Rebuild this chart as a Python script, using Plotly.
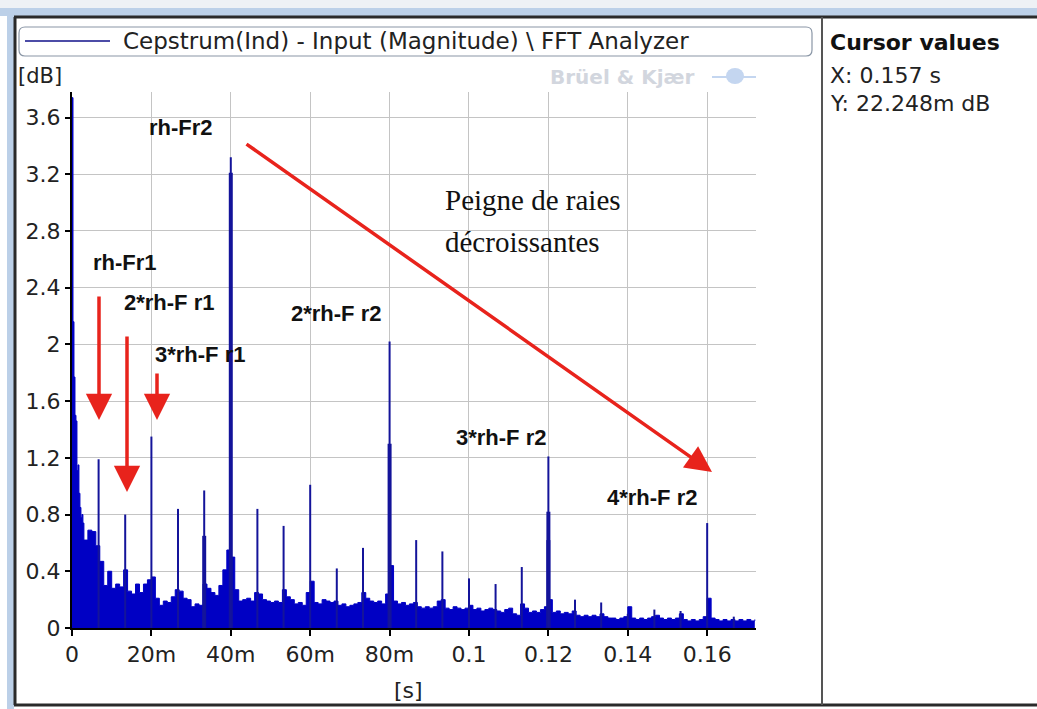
import numpy as np
import plotly.graph_objects as go

# ---------------- data ----------------
# early decay near quefrency 0, every 0.25 ms
head_ms = [0, 0.25, 0.5, 0.75, 1.0, 1.25, 1.5, 1.75, 2.0, 2.25, 2.5, 2.75]
head_db = [3.74, 2.16, 1.77, 1.50, 1.46, 1.11, 1.15, 0.95, 0.85, 0.78, 0.80, 0.74]

# noise floor (upper envelope), every 1 ms from 3 ms to 172 ms
floor_start_ms = 3
floor_db = [
    0.62, 0.69, 0.68, 0.58, 0.47, 0.30, 0.40, 0.28, 0.31, 0.29,   # 3-12
    0.41, 0.26, 0.24, 0.31, 0.25, 0.31, 0.34, 0.36, 0.21, 0.16,   # 13-22
    0.19, 0.18, 0.22, 0.27, 0.26, 0.21, 0.20, 0.15, 0.17, 0.16,   # 23-32
    0.31, 0.28, 0.25, 0.23, 0.30, 0.41, 0.55, 0.50, 0.27, 0.19,   # 33-42
    0.20, 0.21, 0.19, 0.25, 0.24, 0.20, 0.19, 0.18, 0.19, 0.18,   # 43-52
    0.27, 0.22, 0.20, 0.17, 0.18, 0.16, 0.25, 0.33, 0.18, 0.17,   # 53-62
    0.20, 0.19, 0.18, 0.19, 0.16, 0.17, 0.15, 0.16, 0.17, 0.18,   # 63-72
    0.25, 0.21, 0.19, 0.18, 0.19, 0.17, 0.24, 0.44, 0.19, 0.17,   # 73-82
    0.18, 0.16, 0.17, 0.18, 0.15, 0.14, 0.15, 0.14, 0.15, 0.19,   # 83-92
    0.20, 0.14, 0.13, 0.15, 0.14, 0.13, 0.14, 0.16, 0.13, 0.14,   # 93-102
    0.12, 0.13, 0.14, 0.13, 0.12, 0.11, 0.13, 0.14, 0.10, 0.09,   # 103-112
    0.17, 0.14, 0.11, 0.12, 0.11, 0.13, 0.15, 0.20, 0.11, 0.12,   # 113-122
    0.10, 0.11, 0.10, 0.12, 0.09, 0.08, 0.09, 0.08, 0.09, 0.08,   # 123-132
    0.10, 0.08, 0.07, 0.07, 0.06, 0.07, 0.08, 0.15, 0.07, 0.06,   # 133-142
    0.07, 0.06, 0.07, 0.08, 0.09, 0.07, 0.06, 0.07, 0.06, 0.07,   # 143-152
    0.10, 0.06, 0.05, 0.06, 0.05, 0.06, 0.08, 0.21, 0.07, 0.06,   # 153-162
    0.05, 0.06, 0.05, 0.06, 0.05, 0.06, 0.05, 0.06, 0.05, 0.06,   # 163-172
]

# rahmonic peaks (ms, dB)
peak_ms = [6.7, 13.4, 20.0, 26.7, 33.3, 40.0, 46.7, 53.3, 60.0, 66.7, 73.3, 80.0,
           86.7, 93.3, 100.0, 106.7, 113.3, 120.0, 126.7, 133.3, 140.0, 146.7, 153.3,
           160.0, 166.7]
peak_db = [1.19, 0.80, 1.35, 0.84, 0.97, 3.32, 0.84, 0.72, 1.01, 0.42, 0.565, 2.02,
           0.62, 0.54, 0.35, 0.31, 0.43, 1.21, 0.20, 0.18, 0.10, 0.13, 0.12,
           0.74, 0.08]
# wider lower parts of some peaks
shoulder_ms = [33.3, 40.0, 80.0, 120.0, 120.0]
shoulder_db = [0.65, 3.21, 1.30, 0.82, 0.62]

x_tick_vals = [0, 0.02, 0.04, 0.06, 0.08, 0.10, 0.12, 0.14, 0.16]
x_tick_text = ["0", "20m", "40m", "60m", "80m", "0.1", "0.12", "0.14", "0.16"]
y_tick_vals = [0, 0.4, 0.8, 1.2, 1.6, 2.0, 2.4, 2.8, 3.2, 3.6]
y_tick_text = ["0", "0.4", "0.8", "1.2", "1.6", "2", "2.4", "2.8", "3.2", "3.6"]

# ---------------- geometry ----------------
W, H = 1037, 709
L, R, T, B = 72, 756, 92, 628


def px(x):
    return (x - L) / (R - L)


def py(y):
    return (B - y) / (B - T)


BLUE = "#0000c4"
SPIKE = "#14149a"
RED = "#e8231c"

fig = go.Figure()

# noise band
band_x = [t / 1000 for t in head_ms] + [(floor_start_ms + i) / 1000 for i in range(len(floor_db))]
band_y = head_db + floor_db
fig.add_trace(go.Scatter(x=band_x, y=band_y, mode="lines", line=dict(color=BLUE, width=1, shape="hv"),
                         fill="tozeroy", fillcolor=BLUE, hoverinfo="skip", showlegend=False))

# shoulders
sx, sy = [], []
for m, v in zip(shoulder_ms, shoulder_db):
    sx += [m / 1000, m / 1000, None]
    sy += [0, v, None]
fig.add_trace(go.Scatter(x=sx, y=sy, mode="lines", line=dict(color=SPIKE, width=4),
                         hoverinfo="skip", showlegend=False))

# spikes
kx, ky = [], []
for m, v in zip(peak_ms, peak_db):
    kx += [m / 1000, m / 1000, None]
    ky += [0, v, None]
fig.add_trace(go.Scatter(x=kx, y=ky, mode="lines", line=dict(color=SPIKE, width=2),
                         hoverinfo="skip", showlegend=False))

UI_FONT = "DejaVu Sans"
LBL_FONT = "Liberation Sans"

fig.update_layout(
    width=W, height=H,
    margin=dict(l=L, r=W - R, t=T, b=H - B, autoexpand=False),
    paper_bgcolor="white", plot_bgcolor="white",
    showlegend=False,
    font=dict(family=UI_FONT, size=20, color="#222"),
    xaxis=dict(range=[0, 0.1723], tickvals=x_tick_vals, ticktext=x_tick_text,
               showgrid=True, gridcolor="#c4c4c4", gridwidth=1,
               showline=True, linecolor="black", linewidth=2,
               ticks="outside", ticklen=6, tickcolor="black", tickwidth=2,
               zeroline=False, tickfont=dict(size=22, color="#222")),
    yaxis=dict(range=[0, 3.78], tickvals=y_tick_vals, ticktext=y_tick_text,
               showgrid=True, gridcolor="#c4c4c4", gridwidth=1,
               showline=True, linecolor="black", linewidth=2,
               ticks="outside", ticklen=5, tickcolor="black", tickwidth=2,
               zeroline=False, tickfont=dict(size=22, color="#222")),
)

shapes = []
# window chrome
shapes.append(dict(type="rect", xref="paper", yref="paper", x0=px(0), x1=px(W), y0=py(8), y1=py(0),
                   fillcolor="#eef1f5", line=dict(width=0), layer="above"))
shapes.append(dict(type="rect", xref="paper", yref="paper", x0=px(0), x1=px(W), y0=py(16), y1=py(8),
                   fillcolor="#bcd0e8", line=dict(width=0), layer="above"))
shapes.append(dict(type="rect", xref="paper", yref="paper", x0=px(7), x1=px(14), y0=py(H), y1=py(16),
                   fillcolor="#bcd0e8", line=dict(width=0), layer="above"))
shapes.append(dict(type="line", xref="paper", yref="paper", x0=px(14), x1=px(W), y0=py(17), y1=py(17),
                   line=dict(color="#2a2a2a", width=3), layer="above"))
shapes.append(dict(type="line", xref="paper", yref="paper", x0=px(15), x1=px(15), y0=py(17), y1=py(705),
                   line=dict(color="#2a2a2a", width=3), layer="above"))
shapes.append(dict(type="line", xref="paper", yref="paper", x0=px(14), x1=px(W), y0=py(705), y1=py(705),
                   line=dict(color="#2a2a2a", width=3), layer="above"))
# panel separator
shapes.append(dict(type="line", xref="paper", yref="paper", x0=px(822), x1=px(822), y0=py(17), y1=py(705),
                   line=dict(color="#555", width=2), layer="above"))
# legend box (rounded)
x0, x1, y0, y1, r = 19, 812, 27, 56, 6
path = (f"M {px(x0 + r)},{py(y0)} L {px(x1 - r)},{py(y0)} "
        f"Q {px(x1)},{py(y0)} {px(x1)},{py(y0 + r)} L {px(x1)},{py(y1 - r)} "
        f"Q {px(x1)},{py(y1)} {px(x1 - r)},{py(y1)} L {px(x0 + r)},{py(y1)} "
        f"Q {px(x0)},{py(y1)} {px(x0)},{py(y1 - r)} L {px(x0)},{py(y0 + r)} "
        f"Q {px(x0)},{py(y0)} {px(x0 + r)},{py(y0)} Z")
shapes.append(dict(type="path", xref="paper", yref="paper", path=path,
                   line=dict(color="#8a96a6", width=1.2), fillcolor="white", layer="above"))
shapes.append(dict(type="line", xref="paper", yref="paper", x0=px(25), x1=px(110), y0=py(41), y1=py(41),
                   line=dict(color="#10108a", width=1.5), layer="above"))
# watermark logo
shapes.append(dict(type="circle", xref="paper", yref="paper", x0=px(726), x1=px(744), y0=py(84), y1=py(68),
                   fillcolor="#c4d6f0", line=dict(width=0), layer="below"))
shapes.append(dict(type="line", xref="paper", yref="paper", x0=px(712), x1=px(756), y0=py(77), y1=py(77),
                   line=dict(color="#c4d6f0", width=2), layer="below"))
fig.update_layout(shapes=shapes)

ann = []


def text(x, y, s, size=18, family=UI_FONT, color="#222", xanchor="center", bold=False):
    ann.append(dict(xref="paper", yref="paper", x=px(x), y=py(y), text=f"<b>{s}</b>" if bold else s,
                    showarrow=False, xanchor=xanchor, yanchor="middle",
                    font=dict(size=size, family=family, color=color)))


text(121, 41, "Cepstrum(Ind) - Input (Magnitude) \\ FFT Analyzer", size=23, xanchor="left")
text(828, 43, "Cursor values", size=22, xanchor="left", bold=True, color="#111")
text(828, 75, "X: 0.157 s", size=22, xanchor="left")
text(828, 104, "Y: 22.248m dB", size=22, xanchor="left")
text(16, 76, "[dB]", size=21, xanchor="left")
text(408, 690, "[s]", size=22)
text(622, 77, "Brüel &amp; Kjær", size=20, color="#d2d6de", bold=True)

# peak labels
LS = 22
text(181, 127, "rh-Fr2", size=LS, family=LBL_FONT, bold=True, color="#111")
text(125, 262, "rh-Fr1", size=LS, family=LBL_FONT, bold=True, color="#111")
text(169, 302, "2*rh-F r1", size=LS, family=LBL_FONT, bold=True, color="#111")
text(200, 354, "3*rh-F r1", size=LS, family=LBL_FONT, bold=True, color="#111")
text(336, 313, "2*rh-F r2", size=LS, family=LBL_FONT, bold=True, color="#111")
text(501, 438, "3*rh-F r2", size=LS, family=LBL_FONT, bold=True, color="#111")
text(652, 497, "4*rh-F r2", size=LS, family=LBL_FONT, bold=True, color="#111")
text(443, 200, "Peigne de raies", size=29, family="Liberation Serif", xanchor="left", color="#111")
text(443, 242, "décroissantes", size=29, family="Liberation Serif", xanchor="left", color="#111")


def arrow(hx, hy, tx, ty):
    ann.append(dict(xref="paper", yref="paper", x=px(hx), y=py(hy), ax=tx - hx, ay=ty - hy,
                    axref="pixel", ayref="pixel", showarrow=True, text="",
                    arrowhead=2, arrowsize=1.5, arrowwidth=3.5, arrowcolor=RED))


arrow(712, 472, 245, 143)
arrow(99, 420, 99, 295)
arrow(127, 492, 127, 335)
arrow(157, 420, 157, 372)

fig.update_layout(annotations=ann)
fig.write_html("out.html", config={"displayModeBar": False},
               post_script="document.body.style.margin='0';document.body.style.overflow='hidden';")
